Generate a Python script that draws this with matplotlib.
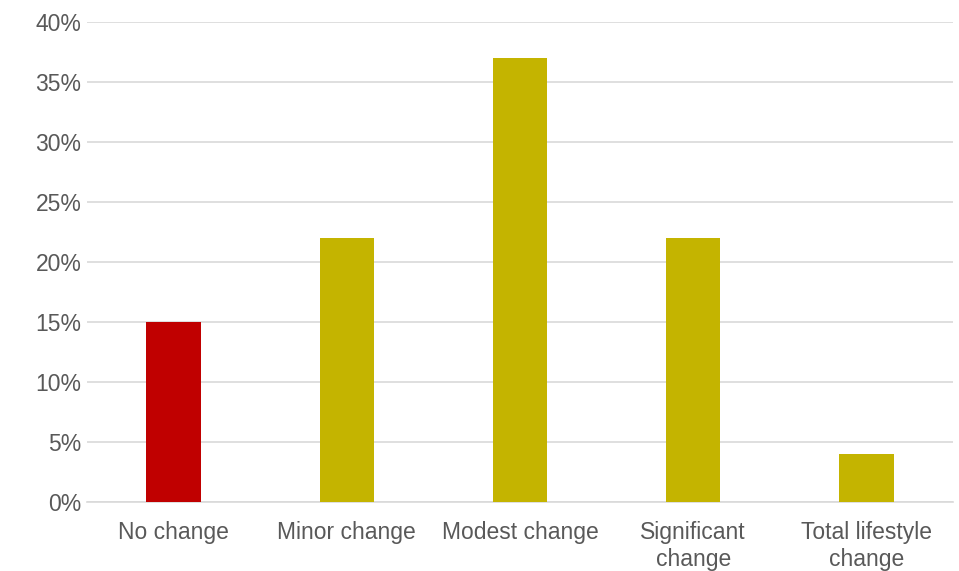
import matplotlib
matplotlib.use("Agg")
import matplotlib.pyplot as plt
from matplotlib.ticker import PercentFormatter

categories = ["No change", "Minor change", "Modest change", "Significant\nchange", "Total lifestyle\nchange"]
shares = [15, 22, 37, 22, 4]
bar_colors = ["#C00000", "#C4B400", "#C4B400", "#C4B400", "#C4B400"]
y_ticks = [0, 5, 10, 15, 20, 25, 30, 35, 40]

plt.rcParams["font.family"] = ["Liberation Sans", "DejaVu Sans"]

W, H = 959, 571
fig = plt.figure(figsize=(W / 100, H / 100), dpi=100)
ax = fig.add_axes([87 / W, (H - 502) / H, (953 - 87) / W, (502 - 22) / H])

x = list(range(len(categories)))
ax.bar(x, shares, width=0.315, color=bar_colors, zorder=3)

ax.set_xlim(-0.5, len(categories) - 0.5)
ax.set_ylim(0, 40)
ax.set_yticks(y_ticks)
ax.yaxis.set_major_formatter(PercentFormatter(decimals=0))
ax.set_xticks(x)
ax.set_xticklabels(categories, linespacing=1.2)

ax.grid(axis="y", color="#D9D9D9", linewidth=1.2, zorder=0)
for side in ["top", "right", "left"]:
    ax.spines[side].set_visible(False)
ax.spines["bottom"].set_color("#D9D9D9")
ax.spines["bottom"].set_linewidth(1.2)

ax.tick_params(axis="y", length=0, pad=4, labelsize=16.5, labelcolor="#595959")
ax.tick_params(axis="x", length=0, pad=14, labelsize=16.5, labelcolor="#595959")

fig.savefig("out.png", dpi=100)
